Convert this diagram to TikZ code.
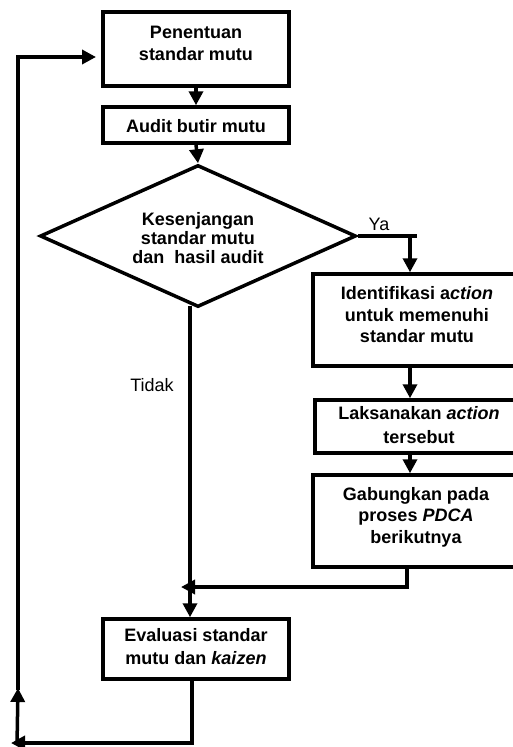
\documentclass[tikz,border=0pt]{standalone}
\usepackage{fontspec}
\setmainfont{Liberation Sans}
\usetikzlibrary{arrows.meta,shapes.geometric,calc}
\begin{document}
\begin{tikzpicture}[x=1pt,y=-1pt,
  box/.style={draw,line width=3.5pt,inner sep=0pt},
  txt/.style={align=center,inner sep=0pt,font=\fontsize{18}{22}\selectfont\bfseries},
  lbl/.style={inner sep=0pt,font=\fontsize{18}{22}\selectfont},
  ln/.style={line width=3.5pt},
  arr/.style={line width=3.5pt,-{Triangle[length=14pt,width=14pt]}}]
\useasboundingbox (0,0) rectangle (513,747);
\fill[white] (0,0) rectangle (513,747);
\clip (0,0) rectangle (513,747);

% boxes
\node[box,minimum width=186pt,minimum height=74pt] (b1) at (196,49) {};
\node[txt] (b1t) at (196,43) {Penentuan\\standar mutu};
\node[box,minimum width=186pt,minimum height=36pt] (b2) at (196,125) {};
\node[txt] (b2t) at (196,126) {Audit butir mutu};
\node[draw,diamond,line width=3.5pt,inner sep=0pt,minimum width=316pt,minimum height=142pt] (dia) at (198,236) {};
\node[txt,font=\fontsize{18}{19}\selectfont\bfseries] (diat) at (198,238) {Kesenjangan\\standar mutu\\dan\ \ hasil audit};
\node[box,minimum width=208pt,minimum height=92pt] (b3) at (417,320) {};
\node[txt,font=\fontsize{18}{21.5}\selectfont\bfseries] (b3t) at (417,315) {Identifikasi a\textit{ction}\\untuk memenuhi\\standar mutu};
\node[box,minimum width=208pt,minimum height=53pt] (b4) at (419,426.5) {};
\node[txt,font=\fontsize{18}{24}\selectfont\bfseries] (b4t) at (419,425) {Laksanakan \textit{action}\\tersebut};
\node[box,minimum width=208pt,minimum height=92pt] (b5) at (417,521) {};
\node[txt,font=\fontsize{18}{21.5}\selectfont\bfseries] (b5t) at (416,517) {Gabungkan pada\\proses \textit{PDCA}\\berikutnya};
\node[box,minimum width=186pt,minimum height=60pt] (b6) at (196,649) {};
\node[txt,font=\fontsize{18}{23}\selectfont\bfseries] (b6t) at (196,647) {Evaluasi standar\\mutu dan \textit{kaizen}};

% labels
\node[lbl] (ya) at (379,224) {Ya};
\node[lbl] (tidak) at (152,385) {Tidak};

% coordinates
\coordinate (yae) at (417,0);
\coordinate (yax) at (410,0);
\coordinate (t) at (190,306);
\coordinate (j) at (190,587);
\coordinate (jt) at (181,587);
\coordinate (jr) at (407,587);
\coordinate (e) at (192,743);
\coordinate (lb) at (11,743);
\coordinate (lb2) at (17,745);
\coordinate (lm) at (18,688);
\coordinate (lt) at (18,57);
\coordinate (lte) at (96,57);

% connectors
\draw[arr] (b1.south) -- (b2.north);
\draw[arr] (b2.south) -- (dia.north);
\draw[ln] (dia.east) -- (dia.east -| yae);
\draw[arr] (dia.east -| yax) -- (yax |- b3.north);
\draw[arr] (yax |- b3.south) -- (yax |- b4.north);
\draw[arr] (yax |- b4.south) -- (yax |- b5.north);
\draw[arr] (jr |- b5.south) -- (jr) -- (jt);
\draw[ln] (t) -- (j);
\draw[arr] (j) -- (j |- b6.north);
\draw[arr] (e |- b6.south) -- (e) -- (lb);
\draw[arr] (lb2) -- (lm);
\draw[arr] ([yshift=-2pt]lm) -- (lt) -- (lte);
\end{tikzpicture}
\end{document}
